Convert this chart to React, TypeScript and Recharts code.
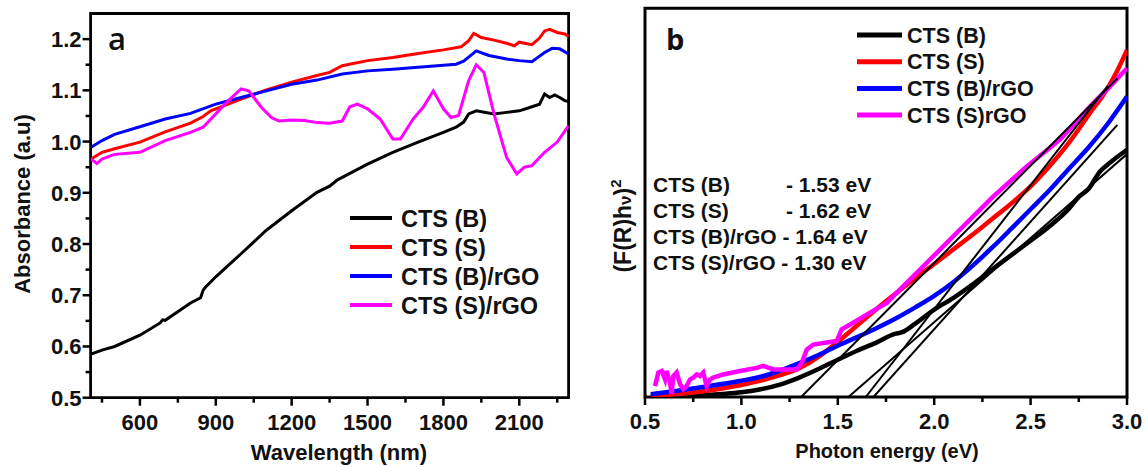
import React from 'react';
import { LineChart, Line, XAxis, YAxis, ReferenceArea } from 'recharts';

const FONT = '"Liberation Sans", Arial, Helvetica, sans-serif';

// ---------------- Panel a : Absorbance vs wavelength ----------------
const wlCtsB = [407, 450, 500, 600, 680, 690, 700, 800, 840, 850, 860, 900, 1000, 1100, 1200, 1300, 1350, 1380, 1400, 1500, 1600, 1700, 1800, 1850, 1880, 1900, 1930, 2000, 2050, 2100, 2150, 2180, 2200, 2220, 2240, 2260, 2280, 2295];
const absCtsB = [0.585, 0.593, 0.600, 0.622, 0.646, 0.652, 0.651, 0.685, 0.695, 0.710, 0.716, 0.736, 0.781, 0.827, 0.865, 0.901, 0.913, 0.925, 0.930, 0.956, 0.979, 0.999, 1.018, 1.028, 1.038, 1.054, 1.060, 1.054, 1.057, 1.060, 1.068, 1.073, 1.093, 1.086, 1.091, 1.086, 1.080, 1.078];

const wlCtsS = [407, 450, 500, 600, 700, 800, 850, 880, 900, 1000, 1100, 1200, 1300, 1350, 1400, 1500, 1600, 1700, 1800, 1870, 1900, 1920, 1950, 2000, 2050, 2080, 2100, 2150, 2180, 2200, 2220, 2250, 2280, 2295];
const absCtsS = [0.966, 0.979, 0.986, 0.999, 1.019, 1.036, 1.049, 1.060, 1.064, 1.083, 1.101, 1.116, 1.129, 1.135, 1.148, 1.158, 1.164, 1.172, 1.179, 1.185, 1.197, 1.211, 1.203, 1.198, 1.192, 1.187, 1.194, 1.189, 1.202, 1.216, 1.219, 1.213, 1.210, 1.205];

const wlCtsBrGO = [407, 450, 500, 600, 700, 800, 900, 1000, 1100, 1200, 1300, 1400, 1500, 1600, 1700, 1800, 1850, 1880, 1930, 1980, 2050, 2100, 2150, 2200, 2230, 2260, 2295];
const absCtsBrGO = [0.989, 1.002, 1.014, 1.029, 1.044, 1.055, 1.073, 1.086, 1.099, 1.112, 1.120, 1.132, 1.138, 1.141, 1.145, 1.149, 1.151, 1.157, 1.177, 1.168, 1.161, 1.158, 1.156, 1.174, 1.182, 1.181, 1.171];

const wlCtsSrGO = [407, 430, 450, 500, 600, 700, 800, 850, 900, 950, 1000, 1030, 1080, 1120, 1150, 1200, 1250, 1300, 1350, 1400, 1430, 1460, 1500, 1550, 1600, 1630, 1680, 1720, 1760, 1800, 1830, 1860, 1900, 1930, 1960, 2000, 2050, 2090, 2120, 2150, 2200, 2250, 2295];
const absCtsSrGO = [0.966, 0.957, 0.966, 0.975, 0.979, 1.002, 1.018, 1.028, 1.054, 1.080, 1.103, 1.099, 1.067, 1.047, 1.040, 1.042, 1.041, 1.037, 1.036, 1.040, 1.068, 1.073, 1.064, 1.044, 1.005, 1.005, 1.044, 1.067, 1.099, 1.064, 1.047, 1.051, 1.119, 1.150, 1.135, 1.054, 0.969, 0.937, 0.950, 0.953, 0.979, 0.999, 1.031];

const wlTicks = [450, 600, 750, 900, 1050, 1200, 1350, 1500, 1650, 1800, 1950, 2100, 2250];
const wlMajor = [600, 900, 1200, 1500, 1800, 2100];
const absTicks = [0.5, 0.55, 0.6, 0.65, 0.7, 0.75, 0.8, 0.85, 0.9, 0.95, 1.0, 1.05, 1.1, 1.15, 1.2];
const absMajor = [0.5, 0.6, 0.7, 0.8, 0.9, 1.0, 1.1, 1.2];

const namesA = ['CTS (B)', 'CTS (S)', 'CTS (B)/rGO', 'CTS (S)/rGO'];
const colorsA = ['#000000', '#ff0000', '#0000ff', '#ff00ff'];

// ---------------- Panel b : Tauc-type plot ----------------
const eCtsB = [0.53, 0.7, 0.9, 1.0, 1.1, 1.2, 1.3, 1.4, 1.5, 1.6, 1.7, 1.8, 1.83, 1.9, 2.0, 2.1, 2.2, 2.3, 2.4, 2.5, 2.6, 2.7, 2.75, 2.8, 2.86, 2.9, 3.0];
const fCtsB = [0.3, 0.4, 0.8, 1.2, 2.0, 3.2, 5.0, 7.2, 9.6, 11.9, 14.0, 16.3, 16.6, 18.8, 22.5, 25.5, 29.0, 32.8, 36.5, 40.2, 44.0, 48.5, 51.5, 53.5, 58.0, 59.8, 63.6];

const eCtsS = [0.53, 0.6, 0.7, 0.8, 0.9, 1.0, 1.1, 1.2, 1.3, 1.4, 1.5, 1.6, 1.7, 1.8, 1.9, 2.0, 2.1, 2.2, 2.3, 2.4, 2.5, 2.6, 2.7, 2.8, 2.9, 2.95, 3.0];
const fCtsS = [0.2, 0.5, 0.9, 1.5, 2.2, 3.1, 4.2, 5.6, 7.4, 10.3, 14.2, 18.4, 22.6, 26.6, 30.5, 34.2, 38.0, 41.8, 45.8, 49.8, 54.2, 59.5, 65.5, 72.5, 79.5, 84.0, 89.3];

const eCtsBrGO = [0.53, 0.65, 0.82, 0.99, 1.1, 1.2, 1.3, 1.4, 1.5, 1.6, 1.7, 1.8, 1.9, 2.0, 2.1, 2.2, 2.3, 2.4, 2.5, 2.6, 2.7, 2.8, 2.9, 3.0];
const fCtsBrGO = [0.7, 1.5, 2.7, 4.1, 5.2, 6.8, 8.7, 10.8, 13.2, 15.4, 17.7, 20.2, 23.0, 26.0, 29.6, 33.8, 38.4, 43.3, 48.3, 53.3, 58.8, 64.2, 70.3, 77.3];

const eCtsSrGO = [0.552, 0.569, 0.587, 0.604, 0.612, 0.630, 0.638, 0.647, 0.664, 0.682, 0.699, 0.716, 0.733, 0.751, 0.768, 0.785, 0.802, 0.820, 0.837, 0.854, 0.906, 0.993, 1.079, 1.114, 1.165, 1.217, 1.287, 1.313, 1.339, 1.373, 1.442, 1.494, 1.520, 1.580, 1.667, 1.754, 1.823, 1.926, 2.030, 2.134, 2.238, 2.307, 2.480, 2.652, 2.825, 2.912, 3.0];
const fCtsSrGO = [2.8, 6.3, 6.7, 4.5, 6.7, 3.7, 0.7, 5.4, 6.3, 3.3, 2.0, 2.8, 4.5, 5.0, 5.8, 5.4, 6.3, 2.8, 4.5, 5.0, 5.8, 6.7, 7.5, 8.0, 7.1, 7.1, 7.1, 8.8, 12.2, 13.5, 14.0, 14.4, 17.4, 19.1, 21.7, 24.2, 27.7, 32.8, 37.9, 43.1, 48.2, 51.6, 59.3, 66.2, 75.6, 79.9, 84.6];

// linear extrapolation lines (start at band-gap intercept, end point)
const fitSrGOx = [1.31, 2.95];
const fitSrGOy = [0, 82];
const fitBx = [1.555, 3.0];
const fitBy = [0, 62.5];
const fitSx = [1.645, 2.9];
const fitSy = [0, 80];
const fitBrGOx = [1.685, 2.95];
const fitBrGOy = [0, 70];

const eTicks = [0.5, 0.75, 1.0, 1.25, 1.5, 1.75, 2.0, 2.25, 2.5, 2.75, 3.0];
const eMajor = [0.5, 1.0, 1.5, 2.0, 2.5, 3.0];

const namesB = ['CTS (B)', 'CTS (S)', 'CTS (B)/rGO', 'CTS (S)rGO'];
const gapNames = ['CTS (B)', 'CTS (S)', 'CTS (B)/rGO', 'CTS (S)/rGO'];
const gapValues = ['1.53', '1.62', '1.64', '1.30'];

const pts = (xs: number[], ys: number[]) => xs.map((x, i) => ({ x, y: ys[i] }));

const isIn = (arr: number[], v: number) => arr.some((m) => Math.abs(m - v) < 1e-6);

const makeXTick = (majors: number[], fontSize: number, dy: number, digits: number) => (props: any) => {
  const { x, y, payload } = props;
  const v = payload.value as number;
  const major = isIn(majors, v);
  return (
    <g>
      <line x1={x} x2={x} y1={y} y2={y + (major ? 8 : 5)} stroke="#000" strokeWidth={2.5} />
      {major && (
        <text x={x} y={y + dy} textAnchor="middle" fontFamily={FONT} fontWeight="bold" fontSize={fontSize} fill="#111">
          {digits > 0 ? v.toFixed(digits) : String(v)}
        </text>
      )}
    </g>
  );
};

const makeYTick = (majors: number[], fontSize: number) => (props: any) => {
  const { x, y, payload } = props;
  const v = payload.value as number;
  const major = isIn(majors, v);
  return (
    <g>
      <line x1={x} x2={x - (major ? 8 : 5)} y1={y} y2={y} stroke="#000" strokeWidth={2.5} />
      {major && (
        <text x={x - 9} y={y + 8} textAnchor="end" fontFamily={FONT} fontWeight="bold" fontSize={fontSize} fill="#111">
          {v.toFixed(1)}
        </text>
      )}
    </g>
  );
};

const XTickA = makeXTick(wlMajor, 22, 32.5, 0);
const YTickA = makeYTick(absMajor, 22);
const XTickB = makeXTick(eMajor, 22, 31.5, 1);

export default function App() {
  const seriesA = [
    pts(wlCtsB, absCtsB),
    pts(wlCtsS, absCtsS),
    pts(wlCtsBrGO, absCtsBrGO),
    pts(wlCtsSrGO, absCtsSrGO),
  ];
  const seriesB = [
    pts(eCtsB, fCtsB),
    pts(eCtsS, fCtsS),
    pts(eCtsBrGO, fCtsBrGO),
    pts(eCtsSrGO, fCtsSrGO),
  ];
  const fits = [pts(fitSrGOx, fitSrGOy), pts(fitBx, fitBy), pts(fitSx, fitSy), pts(fitBrGOx, fitBrGOy)];

  const textStyle = { fontFamily: FONT, fontWeight: 'bold' as const, fill: '#111' };

  return (
    <div style={{ position: 'absolute', left: 0, top: 0, width: 1146, height: 467, background: '#fff', overflow: 'hidden' }}>
      {/* Panel a */}
      <div style={{ position: 'absolute', left: 0, top: 0 }}>
        <LineChart width={580} height={467} margin={{ top: 13.5, left: 89.6, right: 11.4, bottom: 68.3 }}>
          <XAxis
            type="number"
            dataKey="x"
            domain={[405, 2295]}
            ticks={wlTicks}
            interval={0}
            tick={XTickA}
            tickLine={false}
            axisLine={false}
            tickSize={0}
            tickMargin={0}
            height={1}
            allowDataOverflow
          />
          <YAxis
            type="number"
            dataKey="y"
            domain={[0.5, 1.25]}
            ticks={absTicks}
            interval={0}
            tick={YTickA}
            tickLine={false}
            axisLine={false}
            tickSize={0}
            tickMargin={0}
            width={1}
            allowDataOverflow
          />
          {seriesA.map((d, i) => (
            <Line
              key={namesA[i]}
              data={d}
              dataKey="y"
              name={namesA[i]}
              type="linear"
              stroke={colorsA[i]}
              strokeWidth={3}
              dot={false}
              activeDot={false}
              isAnimationActive={false}
            />
          ))}
          <ReferenceArea x1={405} x2={2295} y1={0.5} y2={1.25} fill="none" fillOpacity={0} stroke="#000" strokeWidth={2.8} ifOverflow="visible" />
        </LineChart>
      </div>

      {/* Panel b */}
      <div style={{ position: 'absolute', left: 580, top: 0 }}>
        <LineChart width={566} height={467} margin={{ top: 8.3, left: 65, right: 19, bottom: 69 }}>
          <XAxis
            type="number"
            dataKey="x"
            domain={[0.5, 3.0]}
            ticks={eTicks}
            interval={0}
            tick={XTickB}
            tickLine={false}
            axisLine={false}
            tickSize={0}
            tickMargin={0}
            height={1}
            allowDataOverflow
          />
          <YAxis type="number" dataKey="y" domain={[0, 100]} hide allowDataOverflow />
          {seriesB.map((d, i) => (
            <Line
              key={namesB[i]}
              data={d}
              dataKey="y"
              name={namesB[i]}
              type={i === 3 ? 'linear' : 'monotone'}
              stroke={colorsA[i]}
              strokeWidth={4.5}
              dot={false}
              activeDot={false}
              isAnimationActive={false}
            />
          ))}
          {fits.map((d, i) => (
            <Line
              key={'fit' + i}
              data={d}
              dataKey="y"
              type="linear"
              stroke="#000"
              strokeWidth={2}
              dot={false}
              activeDot={false}
              legendType="none"
              isAnimationActive={false}
            />
          ))}
          <ReferenceArea x1={0.5} x2={3.0} y1={0} y2={100} fill="none" fillOpacity={0} stroke="#000" strokeWidth={3} ifOverflow="visible" />
        </LineChart>
      </div>

      {/* Text overlay */}
      <svg width={1146} height={467} style={{ position: 'absolute', left: 0, top: 0, pointerEvents: 'none' }}>
        {/* panel letters */}
        <text x={108} y={50} fontFamily='"Open Sans", Arial, sans-serif' fontWeight={600} fontSize={31} fill="#111">a</text>
        <text x={666} y={50} fontFamily='"Open Sans", Arial, sans-serif' fontWeight={700} fontSize={29} fill="#111">b</text>

        {/* axis titles */}
        <text x={339} y={460} textAnchor="middle" fontSize={22} {...textStyle}>Wavelength (nm)</text>
        <text x={0} y={0} textAnchor="middle" fontSize={22} {...textStyle} transform="translate(30,204) rotate(-90)">Absorbance (a.u)</text>
        <text x={887} y={458} textAnchor="middle" fontSize={20} {...textStyle}>Photon energy (eV)</text>
        <text x={0} y={0} textAnchor="middle" fontSize={23} {...textStyle} transform="translate(631,226) rotate(-90)">
          (F(R)h<tspan fontSize={17}>ν</tspan>)<tspan fontSize={15} dy={-10}>2</tspan>
        </text>

        {/* legend a */}
        {namesA.map((n, i) => (
          <g key={'la' + i}>
            <line x1={350} x2={392} y1={218 + i * 29} y2={218 + i * 29} stroke={colorsA[i]} strokeWidth={4} />
            <text x={401} y={226.5 + i * 29} fontSize={23.5} {...textStyle}>{n}</text>
          </g>
        ))}

        {/* legend b */}
        {namesB.map((n, i) => (
          <g key={'lb' + i}>
            <line x1={857} x2={902} y1={35 + i * 26.7} y2={35 + i * 26.7} stroke={colorsA[i]} strokeWidth={5} />
            <text x={907} y={42.5 + i * 26.7} fontSize={21.5} {...textStyle}>{n}</text>
          </g>
        ))}

        {/* band-gap annotations */}
        {gapNames.map((n, i) =>
          i < 2 ? (
            <g key={'g' + i}>
              <text x={653} y={191.5 + i * 26} fontSize={21} {...textStyle}>{n}</text>
              <text x={786} y={191.5 + i * 26} fontSize={21} {...textStyle}>{'- ' + gapValues[i] + ' eV'}</text>
            </g>
          ) : (
            <text key={'g' + i} x={653} y={191.5 + i * 26} fontSize={21} {...textStyle}>{n + ' - ' + gapValues[i] + ' eV'}</text>
          )
        )}
      </svg>
    </div>
  );
}
